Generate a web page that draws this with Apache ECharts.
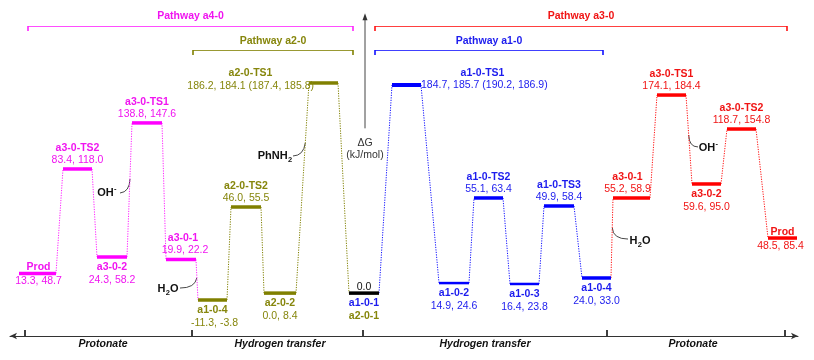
<!DOCTYPE html>
<html><head><meta charset="utf-8">
<script src="https://cdn.jsdelivr.net/npm/echarts@6/dist/echarts.min.js"></script>
<style>html,body{margin:0;padding:0;background:#fff}#c{width:814px;height:360px}</style>
</head><body><div id="c"></div>
<script>
// ---------------- data ----------------
const names = ['Prod','a3-0-TS2','a3-0-2','a3-0-TS1','a3-0-1','a1-0-4','a2-0-TS2','a2-0-2','a2-0-TS1','a1-0-1','a1-0-TS1','a1-0-2','a1-0-TS2','a1-0-3','a1-0-TS3','a1-0-4','a3-0-1','a3-0-TS1','a3-0-2','a3-0-TS2','Prod'];
const energyLabels = ['13.3, 48.7','83.4, 118.0','24.3, 58.2','138.8, 147.6','19.9, 22.2','-11.3, -3.8','46.0, 55.5','0.0, 8.4','186.2, 184.1 (187.4, 185.8)','0.0','184.7, 185.7 (190.2, 186.9)','14.9, 24.6','55.1, 63.4','16.4, 23.8','49.9, 58.4','24.0, 33.0','55.2, 58.9','174.1, 184.4','59.6, 95.0','118.7, 154.8','48.5, 85.4'];
// drawn (schematic) level of each state on the ΔG axis, kJ/mol
const levels = [17.4, 110.0, 32.0, 150.8, 29.8, -6.1, 76.3, 0, 186.2, 0, 184.4, 8.9, 84.3, 8.1, 77.2, 13.4, 84.3, 175.5, 96.7, 145.4, 48.8];
// reaction-coordinate extent of each level
const rcStart = [19, 63, 97, 132, 166, 198, 231, 264, 309, 349, 392, 439, 474, 510, 544, 582, 613, 657, 692, 727, 768];
const rcEnd   = [56, 92, 127, 162, 196, 227, 261, 296, 338, 379, 421, 469, 503, 539, 574, 611, 650, 686, 721, 756, 797];
const pathOf = ['a4','a4','a4','a4','a4','a2','a2','a2','a2','a0','a1','a1','a1','a1','a1','a1','a3','a3','a3','a3','a3'];
const connectorPath = ['a4','a4','a4','a4','a4','a2','a2','a2','a2','a1','a1','a1','a1','a1','a1','a3','a3','a3','a3','a3'];
const sharedName = 'a2-0-1';
const stageBounds = [25, 192, 363, 607, 785];
const stageLabelPos = [103, 280, 485, 693];
const stageNames = ['Protonate','Hydrogen transfer','Hydrogen transfer','Protonate'];
const pathwayNames = ['Pathway a4-0','Pathway a2-0','Pathway a3-0','Pathway a1-0'];
const pathwayKeys = ['a4','a2','a3','a1'];
const pathwayFrom = [28, 193, 375, 375];
const pathwayTo = [353, 353, 787, 603];
const pathwayRow = [0, 1, 0, 1];
// annotations (species released): text pieces [main, script, main], script kind, anchor, curve start / control / end  [rc, level]
const annoPieces = [['OH','-',''], ['H','2','O'], ['PhNH','2',''], ['OH','-',''], ['H','2','O']];
const annoScript = ['sup','sub','sub','sup','sub'];
const annoAt = [[107, 88.7], [168, 3.6], [275, 121.5], [708.5, 128.6], [640, 46.2]];
const annoFrom = [[120, 88.7], [180, 4.5], [293, 121.5], [698, 129.5], [628, 47.9]];
const annoCtrl = [[129.5, 89.6], [195, 4.5], [303.5, 121.8], [689, 129.6], [613, 48.0]];
const annoTo = [[130, 101.1], [196.8, 13.4], [305.3, 133.0], [688.7, 140.1], [612.3, 57.7]];
const dGArrow = [[365, 146.0], [365, 247.0]];

// ---------------- style ----------------
const FONT = '"Liberation Sans", Arial, sans-serif';
const BAR_COLOR = {a4:'#ff00ff', a2:'#808000', a0:'#000000', a1:'#0000ff', a3:'#ff0000'};
const TEXT_COLOR = {a4:'#f014f0', a2:'#86860c', a0:'#111111', a1:'#1c1cee', a3:'#f01414'};
const LINE_COLOR = {a4:'#ff22ff', a2:'#808000', a1:'#1010ff', a3:'#ff1010'};
const labelMode = ['split','above','below','above','above','below','above','below','left','shared','right','below','above','below','above','below','above','above','below','above','split'];
const nameShift = [1,0,0,0,2,0,0,0,0,0,0,0,0,0,0,0,-4,0,0,0,0];
const valueShift = [1,0,0,0,4,2,0,0,0,0,0,0,0,0,0,0,-4,0,0,0,-2];
const barThickness = [3.5,3.5,3.5,3.5,3.5,3.5,3.5,3.5,3.5,3.5,4,2.5,3.5,2.5,3.5,3.5,3.5,3.5,3.5,3.5,3.5];
const OFF = {above:[-21,-9], below:[10,23], split:[-6,8]};
const nameFont = 'bold 10.5px ' + FONT;
const valFont = '10.5px ' + FONT;

function txt(text, x, y, fill, font, align) {
  return {type:'text', style:{text:text, x:x, y:y, fill:fill, font:font, align:align||'center', verticalAlign:'middle'}};
}

function renderBar(params, api) {
  const i = api.value(2);
  const p0 = api.coord([rcStart[i], levels[i]]);
  const p1 = api.coord([rcEnd[i], levels[i]]);
  const y = p0[1], cx = (p0[0] + p1[0]) / 2;
  const k = pathOf[i];
  const tc = TEXT_COLOR[k];
  const ch = [{type:'line', shape:{x1:p0[0], y1:y, x2:p1[0], y2:y}, style:{stroke:BAR_COLOR[k], lineWidth:barThickness[i]}}];
  const m = labelMode[i];
  if (OFF[m]) {
    ch.push(txt(names[i], cx + nameShift[i], y + OFF[m][0], tc, nameFont));
    ch.push(txt(energyLabels[i], cx + valueShift[i], y + OFF[m][1], tc, valFont));
  } else if (m === 'left') {
    ch.push(txt(names[i], cx - 73, y - 10, tc, nameFont));
    ch.push(txt(energyLabels[i], p0[0] + 5, y + 3, tc, valFont, 'right'));
  } else if (m === 'right') {
    ch.push(txt(names[i], cx + 76, y - 12, tc, nameFont));
    ch.push(txt(energyLabels[i], p1[0], y + 0.5, tc, valFont, 'left'));
  } else {
    ch.push(txt(energyLabels[i], cx, y - 6, '#111', valFont));
    ch.push(txt(names[i], cx, y + 10, TEXT_COLOR.a1, nameFont));
    ch.push(txt(sharedName, cx, y + 23, TEXT_COLOR.a2, nameFont));
  }
  return {type:'group', children:ch};
}

function renderConnector(params, api) {
  const i = api.value(2);
  const a = api.coord([rcEnd[i], levels[i]]);
  const b = api.coord([rcStart[i + 1], levels[i + 1]]);
  return {type:'line', shape:{x1:a[0], y1:a[1], x2:b[0], y2:b[1]},
    style:{stroke:LINE_COLOR[connectorPath[i]], lineWidth:1, lineDash:[1.2, 1.3]}};
}

const chart = echarts.init(document.getElementById('c'));
chart.setOption({
  animation:false,
  backgroundColor:'#ffffff',
  grid:{left:10, right:16, top:20, bottom:24},
  xAxis:{type:'value', min:10, max:798, position:'bottom',
    axisLine:{show:true, onZero:false, symbol:['arrow','arrow'], symbolSize:[5,7], lineStyle:{color:'#333', width:1}},
    axisTick:{show:true, inside:true, length:6, customValues:stageBounds, lineStyle:{color:'#000', width:1.5}},
    axisLabel:{show:true, customValues:stageLabelPos, margin:3, fontSize:10.5, fontWeight:'bold', fontStyle:'italic', color:'#111', fontFamily:FONT,
      formatter:function(v){ const j = stageLabelPos.indexOf(v); return j >= 0 ? stageNames[j] : ''; }},
    splitLine:{show:false}},
  yAxis:{type:'value', min:-38, max:242, show:false, splitLine:{show:false}},
  series:[
    {type:'custom', coordinateSystem:'cartesian2d', silent:true, clip:false,
      data:connectorPath.map(function(_, i){ return [rcEnd[i], levels[i], i]; }),
      encode:{x:0, y:1}, renderItem:renderConnector, z:1},
    {type:'custom', coordinateSystem:'cartesian2d', silent:true, clip:false,
      data:names.map(function(_, i){ return [rcStart[i], levels[i], i]; }),
      encode:{x:0, y:1}, renderItem:renderBar, z:2}
  ]
});

// decorations anchored to the chart's coordinate system
function px(p){ return chart.convertToPixel({gridIndex:0}, p); }
const g = [];
const rowY = [26.5, 50.5], rowLabelY = [16, 41];
pathwayNames.forEach(function(n, j){
  const c = LINE_COLOR[pathwayKeys[j]];
  const xa = px([pathwayFrom[j], 0])[0], xb = px([pathwayTo[j], 0])[0];
  const y = rowY[pathwayRow[j]];
  g.push({type:'line', shape:{x1:xa, y1:y, x2:xb, y2:y}, style:{stroke:c, lineWidth:1, opacity:0.8}, silent:true});
  g.push({type:'line', shape:{x1:xa, y1:y - 0.5, x2:xa, y2:y + 4.5}, style:{stroke:c, lineWidth:1.6}, silent:true});
  g.push({type:'line', shape:{x1:xb, y1:y - 0.5, x2:xb, y2:y + 4.5}, style:{stroke:c, lineWidth:1.6}, silent:true});
  g.push({type:'text', silent:true, style:{text:n, x:(xa + xb) / 2, y:rowLabelY[pathwayRow[j]], fill:TEXT_COLOR[pathwayKeys[j]], font:'bold 10.5px ' + FONT, align:'center', verticalAlign:'middle'}});
});
// ΔG arrow
const a0 = px(dGArrow[0]), a1 = px(dGArrow[1]);
g.push({type:'line', silent:true, shape:{x1:a0[0], y1:a0[1], x2:a1[0], y2:a1[1] + 4}, style:{stroke:'#444', lineWidth:1}});
g.push({type:'polygon', silent:true, shape:{points:[[a1[0], a1[1] - 1], [a1[0] - 2.5, a1[1] + 6], [a1[0] + 2.5, a1[1] + 6]]}, style:{fill:'#333'}});
g.push({type:'text', silent:true, style:{text:'ΔG', x:a0[0], y:a0[1] + 15, fill:'#333', font:'10.5px ' + FONT, align:'center', verticalAlign:'middle'}});
g.push({type:'text', silent:true, style:{text:'(kJ/mol)', x:a0[0], y:a0[1] + 27, fill:'#333', font:'10.5px ' + FONT, align:'center', verticalAlign:'middle'}});
// species annotations with manual sub/superscripts
const mainFont = 'bold 11px ' + FONT, scriptFont = 'bold 7.5px ' + FONT;
const mctx = document.createElement('canvas').getContext('2d');
function w(t, f){ mctx.font = f; return mctx.measureText(t).width; }
annoPieces.forEach(function(pc, j){
  const p = px(annoAt[j]), s = px(annoFrom[j]), c = px(annoCtrl[j]), e = px(annoTo[j]);
  const w0 = w(pc[0], mainFont), w1 = w(pc[1], scriptFont) + 0.5, w2 = w(pc[2], mainFont);
  let x = p[0] - (w0 + w1 + w2) / 2;
  const dy = annoScript[j] === 'sup' ? -4 : 3.5;
  g.push({type:'text', silent:true, style:{text:pc[0], x:x, y:p[1], fill:'#111', font:mainFont, align:'left', verticalAlign:'middle'}});
  x += w0;
  g.push({type:'text', silent:true, style:{text:pc[1], x:x + 0.3, y:p[1] + dy, fill:'#111', font:scriptFont, align:'left', verticalAlign:'middle'}});
  x += w1;
  if (pc[2]) g.push({type:'text', silent:true, style:{text:pc[2], x:x, y:p[1], fill:'#111', font:mainFont, align:'left', verticalAlign:'middle'}});
  g.push({type:'bezierCurve', silent:true, shape:{x1:s[0], y1:s[1], cpx1:c[0], cpy1:c[1], x2:e[0], y2:e[1]}, style:{stroke:'#333', lineWidth:0.9, fill:null}});
});
chart.setOption({graphic:{elements:g}});
</script>
</body></html>
